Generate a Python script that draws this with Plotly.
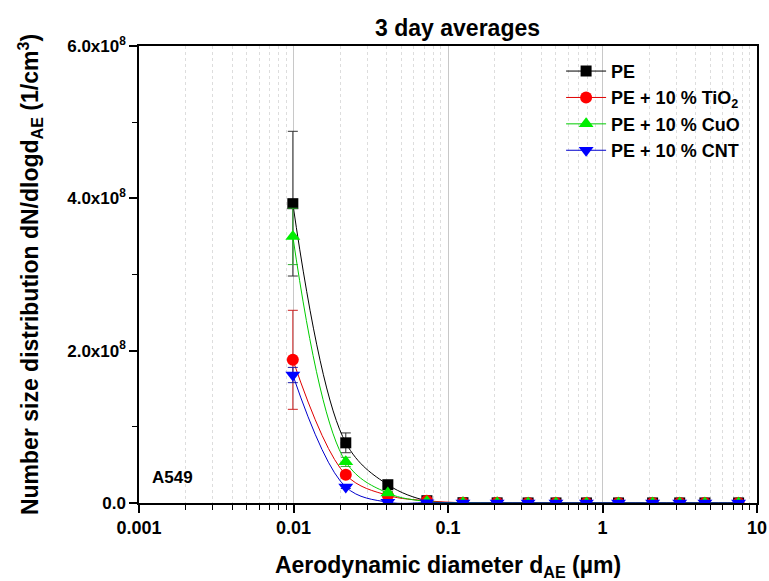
import plotly.graph_objects as go

# Aerodynamic diameters (µm)
diam = [0.0099, 0.0218, 0.0408, 0.073, 0.125, 0.208, 0.33, 0.50, 0.787, 1.27, 2.11, 3.16, 4.6, 7.6]

pe = [3.93e8, 0.79e8, 0.24e8, 0.03e8, 0.004e8, 0.002e8, 0.001e8, 0.001e8, 0.001e8, 0.001e8, 0.001e8, 0.001e8, 0.001e8, 0.001e8]
pe_err = [0.95e8, 0.13e8, 0.02e8, 0.005e8, 0, 0, 0, 0, 0, 0, 0, 0, 0, 0]

tio2 = [1.88e8, 0.37e8, 0.10e8, 0.03e8, 0.004e8, 0.002e8, 0.001e8, 0.001e8, 0.001e8, 0.001e8, 0.001e8, 0.001e8, 0.001e8, 0.001e8]
tio2_err = [0.65e8, 0.04e8, 0.02e8, 0.005e8, 0, 0.005e8, 0, 0, 0, 0, 0, 0, 0, 0]

cuo = [3.50e8, 0.54e8, 0.13e8, 0.02e8, 0.004e8, 0.002e8, 0.001e8, 0.001e8, 0.001e8, 0.001e8, 0.001e8, 0.001e8, 0.001e8, 0.001e8]
cuo_err = [0.37e8, 0.06e8, 0.02e8, 0.005e8, 0, 0, 0, 0, 0, 0, 0, 0, 0, 0]

cnt = [1.68e8, 0.21e8, 0.01e8, 0.004e8, 0.001e8, 0.001e8, 0.001e8, 0.001e8, 0.001e8, 0.001e8, 0.001e8, 0.001e8, 0.001e8, 0.001e8]
cnt_err = [0.10e8, 0.02e8, 0.005e8, 0, 0, 0, 0, 0, 0, 0, 0, 0, 0, 0]

names = ["PE", "PE + 10 % TiO<sub>2</sub>", "PE + 10 % CuO", "PE + 10 % CNT"]
series = [pe, tio2, cuo, cnt]
errors = [pe_err, tio2_err, cuo_err, cnt_err]
colors = ["#000000", "#ff0000", "#00ee00", "#0000ff"]
line_colors = ["#000000", "#e00000", "#00cc00", "#0000cc"]
err_colors = ["#333333", "#cc2222", "#33aa33", "#2222aa"]
symbols = ["square", "circle", "triangle-up", "triangle-down"]
sizes = [11, 12, 13, 13]

ytickvals = [0, 2e8, 4e8, 6e8]
yticktext = ["0.0", "2.0x10<sup>8</sup>", "4.0x10<sup>8</sup>", "6.0x10<sup>8</sup>"]
yminor = [1e8, 3e8, 5e8]
xtickvals = [0.001, 0.01, 0.1, 1, 10]
xticktext = ["0.001", "0.01", "0.1", "1", "10"]
xminor = [k * 10.0 ** e for e in range(-3, 1) for k in range(2, 10)]

FONT = "Liberation Sans, Arial, sans-serif"

fig = go.Figure()
for name, ys, es, c, lc, ec, sym, sz in zip(names, series, errors, colors, line_colors, err_colors, symbols, sizes):
    fig.add_trace(go.Scatter(
        x=diam, y=ys, name=name, mode="lines+markers",
        line=dict(color=lc, width=1, shape="spline", smoothing=1.0),
        marker=dict(symbol=sym, size=sz, color=c, line=dict(width=0)),
        error_y=dict(type="data", array=es, visible=True, color=ec, thickness=1, width=5),
    ))

fig.update_layout(
    width=769, height=581,
    margin=dict(l=139, r=12, t=46, b=78, autoexpand=False),
    paper_bgcolor="white", plot_bgcolor="white",
    font=dict(family=FONT, color="black", size=17, weight="bold"),
    showlegend=True,
    legend=dict(x=0.683, y=0.985, xanchor="left", yanchor="top",
                bgcolor="rgba(0,0,0,0)", borderwidth=0,
                font=dict(size=18, family=FONT, weight="bold"),
                itemwidth=40, tracegroupgap=2),
    title=dict(text="3 day averages", x=0.595, xanchor="center", y=0.952, yanchor="middle",
               font=dict(size=23, family=FONT, weight="bold")),
)

fig.update_xaxes(
    type="log", range=[-3, 1], automargin=False,
    tickvals=xtickvals, ticktext=xticktext,
    ticks="outside", ticklen=8, tickwidth=1.5, tickcolor="black",
    tickfont=dict(size=18, family=FONT, weight="bold"),
    showline=True, linecolor="black", linewidth=1.5, mirror=True,
    showgrid=True, gridcolor="#c8c8c8", gridwidth=1,
    minor=dict(tickvals=xminor, ticks="outside", ticklen=5, tickwidth=1.2, tickcolor="black",
               showgrid=True, gridcolor="#dddddd", griddash="dot", gridwidth=1),
    title=dict(text="Aerodynamic diameter d<sub>AE</sub> (µm)", standoff=20,
               font=dict(size=23, family=FONT, weight="bold")),
    zeroline=False,
)
fig.update_yaxes(
    range=[0, 6e8], automargin=False,
    tickvals=ytickvals, ticktext=yticktext,
    ticks="outside", ticklen=8, tickwidth=1.5, tickcolor="black",
    tickfont=dict(size=17, family=FONT, weight="bold"),
    showline=True, linecolor="black", linewidth=1.5, mirror=True,
    showgrid=False, zeroline=False,
    minor=dict(tickvals=yminor, ticks="outside", ticklen=5, tickwidth=1.2,
               tickcolor="black", showgrid=False),
    title=dict(text="Number size distribution dN/dlogd<sub>AE</sub> (1/cm<sup>3</sup>)", standoff=22,
               font=dict(size=23, family=FONT, weight="bold")),
)

fig.add_annotation(text="A549", xref="paper", yref="paper", x=0.018, y=0.03,
                   xanchor="left", yanchor="bottom", showarrow=False,
                   font=dict(size=17, family=FONT, weight="bold", color="black"))

fig.write_html("out.html")
